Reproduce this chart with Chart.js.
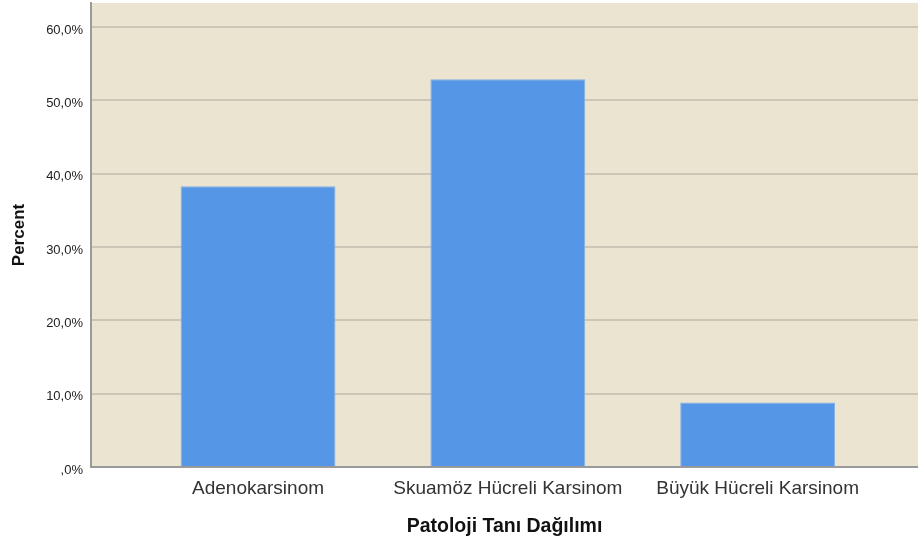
<!DOCTYPE html>
<html>
<head>
<meta charset="utf-8">
<script src="https://cdn.jsdelivr.net/npm/chart.js@4"></script>
<style>
  html, body { margin: 0; padding: 0; background: #fff; }
  #wrap { width: 918px; height: 545px; }
</style>
</head>
<body>
<div id="wrap"><canvas id="myChart"></canvas></div>
<script>
var categories = ['Adenokarsinom', 'Skuamöz Hücreli Karsinom', 'Büyük Hücreli Karsinom'];
var percents = [38.3, 52.9, 8.8];
var yTicks = [0, 10, 20, 30, 40, 50, 60];

// SPSS style plot background
var plotBg = {
    id: 'plotBg',
    beforeDraw: function (chart) {
        var a = chart.chartArea, c = chart.ctx;
        c.save();
        c.fillStyle = '#EAE4D0';
        c.fillRect(a.left, a.top, a.right - a.left, a.bottom - a.top);
        c.restore();
    }
};

function pctLabel(v) {
    var s = v.toFixed(1).replace('.', ',');
    if (v === 0) s = ',0';
    return s + '%';
}

var ctx = document.getElementById('myChart').getContext('2d');
new Chart(ctx, {
    type: 'bar',
    data: {
        datasets: [{
            data: categories.map(function (c, i) { return { x: i, y: percents[i] }; }),
            backgroundColor: '#5596E6',
            borderColor: '#86B0E8',
            borderWidth: 1,
            barPercentage: 0.62,
            categoryPercentage: 1
        }]
    },
    plugins: [plotBg],
    options: {
        responsive: true,
        maintainAspectRatio: false,
        animation: false,
        layout: { padding: { top: 3, right: 0, left: 0, bottom: 0 } },
        plugins: {
            legend: { display: false },
            tooltip: { enabled: false }
        },
        scales: {
            x: {
                type: 'linear',
                offset: false,
                min: -0.6687,
                max: 2.642,
                afterFit: function (s) { s.height = 78; s.paddingLeft = 0; s.paddingRight = 0; },
                afterBuildTicks: function (s) {
                    s.ticks = categories.map(function (c, i) { return { value: i }; });
                },
                grid: { display: false, drawTicks: false, offset: false },
                border: { display: true, color: '#9a9a9a', width: 2 },
                ticks: {
                    padding: 10,
                    color: '#333',
                    font: { family: 'Liberation Sans, Arial, sans-serif', size: 19 },
                    callback: function (v) { return categories[v] || ''; }
                },
                title: {
                    display: true,
                    text: 'Patoloji Tanı Dağılımı',
                    color: '#111',
                    padding: { top: 0, bottom: 7 },
                    font: { family: 'Liberation Sans, Arial, sans-serif', size: 19.5, weight: 'bold' }
                }
            },
            y: {
                min: 0,
                max: 63.3,
                afterFit: function (s) { s.width = 91; s.paddingTop = 0; s.paddingBottom = 0; },
                afterBuildTicks: function (s) {
                    s.ticks = yTicks.map(function (v) { return { value: v }; });
                },
                grid: { color: '#CBC6B6', lineWidth: 2, drawTicks: false },
                border: { display: true, color: '#9a9a9a', width: 2 },
                ticks: {
                    padding: 8,
                    labelOffset: 3,
                    color: '#222',
                    font: { family: 'Liberation Sans, Arial, sans-serif', size: 13 },
                    callback: function (v) { return pctLabel(v); }
                },
                title: {
                    display: true,
                    text: 'Percent',
                    color: '#111',
                    padding: { top: 9, bottom: 0 },
                    font: { family: 'Liberation Sans, Arial, sans-serif', size: 17, weight: 'bold' }
                }
            }
        }
    }
});
</script>
</body>
</html>
